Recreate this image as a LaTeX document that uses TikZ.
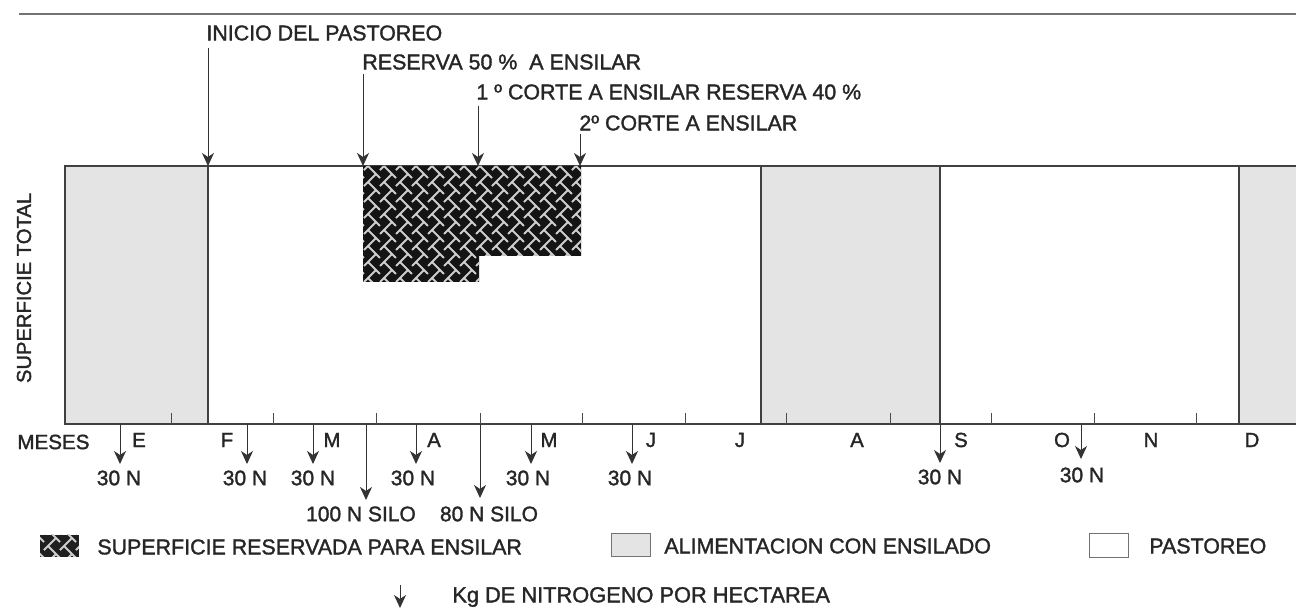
\documentclass[tikz,border=0pt]{standalone}
\usepackage{fontspec}
\setmainfont[FakeBold=1.5]{Liberation Sans}
\usetikzlibrary{arrows.meta}
\definecolor{pgray}{RGB}{228,228,228}
\definecolor{weave}{RGB}{205,205,205}
\begin{document}
\begin{tikzpicture}[x=0.5pt,y=-0.5pt,
  every node/.style={inner sep=0pt, text=black!85},
  lab/.style={font=\fontsize{10.7}{12}\selectfont, anchor=west},
  mon/.style={font=\fontsize{10.2}{12}\selectfont},
  nlab/.style={font=\fontsize{10.5}{12}\selectfont},
  leg/.style={font=\fontsize{10.7}{13}\selectfont, anchor=west},
  arr/.style={draw=black!80, line width=0.5pt, -{Stealth[length=6.5pt,width=6pt,inset=2pt]}},
  frame/.style={draw=black!75, line width=0.6pt},
  tickmark/.style={draw=black!70, line width=0.5pt},
  graybox/.style={fill=pgray, draw=black!75, line width=0.6pt},
  weaveline/.style={draw=weave, line width=1pt, dash pattern=on 8.5pt off 2.8pt},
]
\useasboundingbox (0,0) rectangle (1296,608);
\fill[white] (0,0) rectangle (1296,608);
% top rule
\draw[black!55, line width=1pt] (19,14) -- (1296,14);

% gray boxes (alimentacion con ensilado)
\draw[graybox] (65,166) rectangle (208,424);
\draw[graybox] (761,166) rectangle (940,424);
\fill[pgray] (1239,166) rectangle (1296,424);
\draw[frame] (1239,166) -- (1239,424);
% frame
\draw[frame] (65,166) -- (1296,166);
\draw[frame] (65,424) -- (1296,424);

% reserved surface (hatched)
\begin{scope}
\clip (363,166) -- (581,166) -- (581,256) -- (479,256) -- (479,282) -- (363,282) -- cycle;
\fill[black!92] (300,150) rectangle (620,300);
\foreach \c in {96,112,...,704} {
  \draw[weaveline] (\c,150) -- ++(170,170);
  \draw[weaveline, dash phase=5.6pt] (\c,150) -- ++(-170,170);
}
\end{scope}

% ticks
\foreach \x in {171,273,376,480,582,685,786,890,991,1094,1196}
  \draw[tickmark] (\x,413) -- (\x,424);

% top labels and arrows
\node[lab] (inicio) at (206,33) {INICIO DEL PASTOREO};
\node[lab] (res50) at (362,62) {RESERVA 50 \%\ \ A ENSILAR};
\node[lab] (corte1) at (476,92) {1 º CORTE A ENSILAR RESERVA 40 \%};
\node[lab] (corte2) at (579,123) {2º CORTE A ENSILAR};
\coordinate (a1s) at (208,48);  \coordinate (a1e) at (208,166);
\coordinate (a2s) at (363,74);  \coordinate (a2e) at (363,166);
\coordinate (a3s) at (478,106); \coordinate (a3e) at (478,166);
\coordinate (a4s) at (580,134); \coordinate (a4e) at (580,166);
\draw[arr] (a1s) -- (a1e);
\draw[arr] (a2s) -- (a2e);
\draw[arr] (a3s) -- (a3e);
\draw[arr] (a4s) -- (a4e);

% y label
\node[rotate=90, font=\fontsize{10.1}{12}\selectfont] (sup) at (24,288) {SUPERFICIE TOTAL};

% months
\node[anchor=west, font=\fontsize{10.3}{12}\selectfont] (meses) at (17,442) {MESES};
\foreach \x/\m [count=\i] in {139/E,227/F,332/M,434/A,549/M,651/J,740/J,857/A,961/S,1062/O,1151/N,1252/D}
  \node[mon] (m\i) at (\x,440) {\m};

% nitrogen arrows (30 N)
\foreach \x/\lx/\ly/\ty [count=\i] in {120/119/478/464,247/245/478/464,313/313/478/464,416/413/478/464,531/528/478/464,632/630/478/464,940/940/477/463,1081/1082/475/459} {
  \coordinate (n\i s) at (\x,424);
  \coordinate (n\i e) at (\x,\ty);
  \draw[arr] (n\i s) -- (n\i e);
  \node[nlab] (nl\i) at (\lx,\ly) {30 N};
}
% silo arrows
\coordinate (s1s) at (366,424); \coordinate (s1e) at (366,500);
\coordinate (s2s) at (480,424); \coordinate (s2e) at (480,498);
\draw[arr] (s1s) -- (s1e);
\draw[arr] (s2s) -- (s2e);
\node[nlab] (silo1) at (361,514) {100 N SILO};
\node[nlab] (silo2) at (489,514) {80 N SILO};

% legend
\begin{scope}
\clip (40,535) rectangle (79,557);
\fill[black!88] (40,535) rectangle (79,557);
\foreach \c in {-32,-16,...,160} {
  \draw[weaveline] (\c,530) -- ++(40,40);
  \draw[weaveline, dash phase=5.6pt] (\c,530) -- ++(-40,40);
}
\end{scope}
\node[leg] (l1) at (97,547) {SUPERFICIE RESERVADA PARA ENSILAR};
\draw[graybox, line width=0.5pt, draw=black!55] (611,534) rectangle (650,557);
\node[leg] (l2) at (664,546) {ALIMENTACION CON ENSILADO};
\draw[line width=0.5pt, draw=black!55] (1089,534) rectangle (1128,558);
\node[leg] (l3) at (1149,546) {PASTOREO};
\coordinate (ks) at (400,585); \coordinate (ke) at (400,608);
\draw[arr] (ks) -- (ke);
\node[leg, font=\fontsize{10.9}{13}\selectfont] (kg) at (452,597) {Kg DE NITROGENO POR HECTAREA};
\end{tikzpicture}
\end{document}
